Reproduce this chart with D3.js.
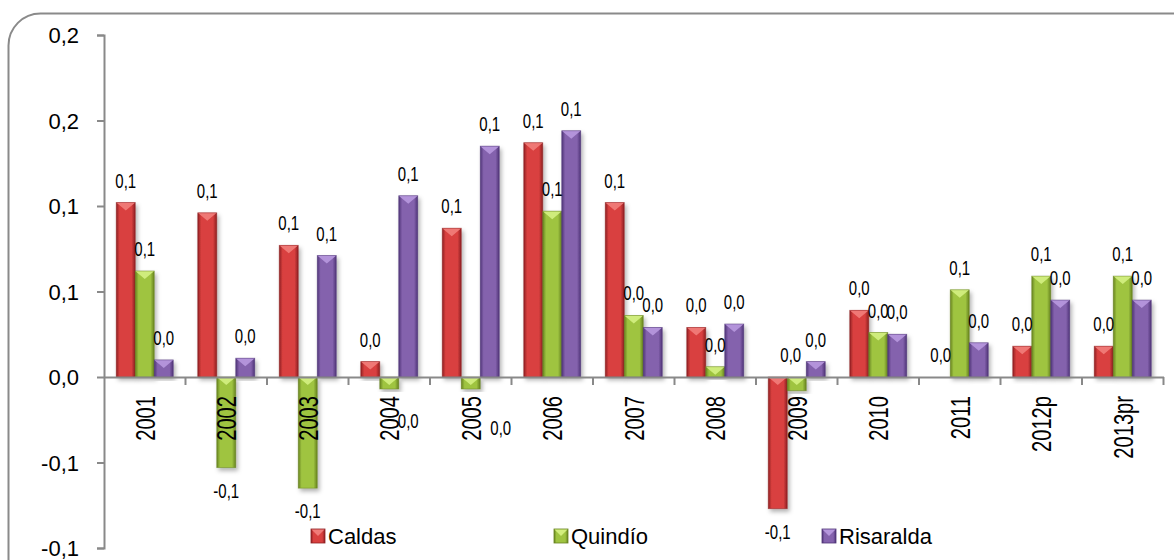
<!DOCTYPE html>
<html>
<head>
<meta charset="utf-8">
<script src="https://cdn.jsdelivr.net/npm/d3@7/dist/d3.min.js"></script>
<style>
  html, body { margin: 0; padding: 0; background: #fff; }
  svg { display: block; font-family: "Liberation Sans", Arial, sans-serif; }
</style>
</head>
<body>
<svg id="chart" width="1174" height="560"></svg>
<script>
// ---- data ----
const years = ["2001","2002","2003","2004","2005","2006","2007","2008","2009","2010","2011","2012p","2013pr"];
const seriesNames = ["Caldas","Quindío","Risaralda"];
const caldas    = [0.102, 0.096, 0.077, 0.009, 0.087, 0.137, 0.102, 0.029, -0.077, 0.039, 0.000, 0.018, 0.018];
const quindio   = [0.062, -0.053, -0.065, -0.007, -0.007, 0.097, 0.036, 0.006, -0.008, 0.026, 0.051, 0.059, 0.059];
const risaralda = [0.010, 0.011, 0.071, 0.106, 0.135, 0.144, 0.029, 0.031, 0.009, 0.025, 0.020, 0.045, 0.045];
const yTicks      = [-0.1, -0.05, 0, 0.05, 0.1, 0.15, 0.2];
const yTickLabels = ["-0,1", "-0,1", "0,0", "0,1", "0,1", "0,2", "0,2"];

// ---- styling ----
const palette = {
  "Caldas":    {edge: "#8e1f22", mid: "#d9403f", light: "#f07b78"},
  "Quindío":   {edge: "#66821f", mid: "#9fc441", light: "#d2ee7e"},
  "Risaralda": {edge: "#4f3477", mid: "#8462ad", light: "#b596dc"}
};
// manual label moves found in the original (dx, dy in px relative to default placement)
const labelNudge = {
  "Quindío|2004": {anchor: "below", dx: 19, dy: 9},
  "Quindío|2005": {anchor: "below", dx: 30, dy: 16},
  "Quindío|2009": {anchor: "above", dx: -6, dy: 0}
};

const svg = d3.select("#chart");
const defs = svg.append("defs");

// drop shadow
const f = defs.append("filter").attr("id","shadow").attr("x","-30%").attr("y","-10%").attr("width","170%").attr("height","130%");
f.append("feDropShadow").attr("dx",2).attr("dy",3).attr("stdDeviation",2).attr("flood-color","#000").attr("flood-opacity",0.3);

seriesNames.forEach((s,i) => {
  const p = palette[s];
  const g = defs.append("linearGradient").attr("id","grad"+i).attr("x1","0").attr("x2","1").attr("y1","0").attr("y2","0");
  g.append("stop").attr("offset","0%").attr("stop-color",p.edge);
  g.append("stop").attr("offset","18%").attr("stop-color",p.mid);
  g.append("stop").attr("offset","45%").attr("stop-color",p.mid);
  g.append("stop").attr("offset","80%").attr("stop-color",p.mid);
  g.append("stop").attr("offset","100%").attr("stop-color",p.edge);
});

// ---- frame ----
svg.append("rect").attr("x",8.5).attr("y",13.5).attr("width",1200).attr("height",600)
  .attr("rx",32).attr("ry",32).attr("fill","none").attr("stroke","#8a8a8a").attr("stroke-width",2);

// ---- scales ----
const plotLeft = 104, plotRight = 1163.5;
const y = d3.scaleLinear().domain([-0.1, 0.2]).range([548, 35]);
const x0 = d3.scaleBand().domain(years).range([plotLeft, plotRight]).paddingInner(0).paddingOuter(0);
const x1 = d3.scaleBand().domain(seriesNames).range([12.25, x0.bandwidth() - 12.25]).padding(0);

const values = {"Caldas": caldas, "Quindío": quindio, "Risaralda": risaralda};
const data = [];
years.forEach((yr, j) => seriesNames.forEach((s, i) => data.push({year: yr, series: s, si: i, v: values[s][j]})));

const axisColor = "#898989";

// ---- y axis ----
const yAxis = svg.append("g").attr("transform", `translate(${plotLeft},0)`)
  .call(d3.axisLeft(y).tickValues(yTicks).tickSize(7).tickPadding(18)
    .tickFormat((d,i) => yTickLabels[i]));
yAxis.select(".domain").attr("stroke", axisColor).attr("stroke-width", 2);
yAxis.selectAll(".tick line").attr("stroke", axisColor).attr("stroke-width", 2);
yAxis.selectAll(".tick text").attr("font-size", 22).attr("fill", "#000")
  .attr("font-family", "'Liberation Sans', Arial, sans-serif").attr("dy", "0.36em");

// ---- bars ----
const barG = svg.append("g");
const bars = barG.selectAll("g.bar").data(data).join("g").attr("class","bar").attr("filter","url(#shadow)");
bars.append("rect")
  .attr("x", d => x0(d.year) + x1(d.series))
  .attr("y", d => y(Math.max(0, d.v)))
  .attr("width", x1.bandwidth())
  .attr("height", d => Math.abs(y(d.v) - y(0)))
  .attr("fill", d => `url(#grad${d.si})`);
// bevel cap at the top of each bar
bars.filter(d => Math.abs(y(d.v) - y(0)) > 0.5).append("path")
  .attr("d", d => {
    const bx = x0(d.year) + x1(d.series), w = x1.bandwidth();
    const top = y(Math.max(0, d.v));
    const h = Math.min(8, Math.abs(y(d.v) - y(0)));
    return `M${bx},${top}L${bx+w},${top}L${bx+w/2},${top+h}Z`;
  })
  .attr("fill", d => palette[d.series].light).attr("opacity", 0.95);
bars.filter(d => Math.abs(y(d.v) - y(0)) > 0.5).append("rect")
  .attr("x", d => x0(d.year) + x1(d.series))
  .attr("y", d => y(Math.max(0, d.v)))
  .attr("width", x1.bandwidth())
  .attr("height", d => Math.abs(y(d.v) - y(0)))
  .attr("fill", "none").attr("stroke", d => palette[d.series].edge).attr("stroke-width", 0.8).attr("stroke-opacity", 0.6);

// ---- x axis (zero line) ----
const xAxis = svg.append("g").attr("transform", `translate(0,${y(0)})`)
  .call(d3.axisBottom(x0).tickSize(0).tickFormat(""));
xAxis.select(".domain").attr("stroke", axisColor).attr("stroke-width", 2);
svg.append("g").selectAll("line").data(years.slice(1).concat(["__end"])).join("line")
  .attr("x1", d => d === "__end" ? plotRight : x0(d))
  .attr("x2", d => d === "__end" ? plotRight : x0(d))
  .attr("y1", y(0)).attr("y2", y(0) + 8)
  .attr("stroke", axisColor).attr("stroke-width", 2);

// year labels (rotated)
svg.append("g").selectAll("text").data(years).join("text")
  .attr("transform", d => `translate(${x0(d) + x0.bandwidth()/2},396) rotate(-90) scale(0.72,1)`)
  .attr("text-anchor", "end").attr("dy", "0.36em")
  .attr("font-size", 28).attr("fill", "#000")
  .text(d => d);

// ---- data labels ----
const fmt = v => {
  const r = Math.round(Math.abs(v) * 10) / 10;
  const s = r.toFixed(1).replace(".", ",");
  return (v < 0 && r > 0) ? "-" + s : s;
};
svg.append("g").selectAll("text").data(data).join("text")
  .attr("transform", d => {
    const cx = x0(d.year) + x1(d.series) + x1.bandwidth()/2;
    const n = labelNudge[d.series + "|" + d.year];
    const mode = n ? n.anchor : (d.v >= 0 ? "above" : "below");
    let ty = mode === "above" ? y(Math.max(0, d.v)) - 15 : y(d.v) + 30;
    let tx = cx;
    if (n) { tx += n.dx; ty += n.dy; }
    return `translate(${tx},${ty}) scale(0.75,1)`;
  })
  .attr("text-anchor", "middle").attr("font-size", 20).attr("fill", "#000")
  .text(d => fmt(d.v));

// ---- legend ----
const legendX = [311, 554, 822];
const lg = svg.append("g").selectAll("g").data(seriesNames).join("g")
  .attr("transform", (d,i) => `translate(${legendX[i]},529)`);
lg.append("rect").attr("width", 14).attr("height", 14).attr("fill", (d,i) => `url(#grad${i})`);
lg.append("path").attr("d", "M0,0L14,0L7,7Z").attr("fill", d => palette[d].light);
lg.append("rect").attr("width", 14).attr("height", 14).attr("fill", "none")
  .attr("stroke", d => palette[d].edge).attr("stroke-width", 0.8);
lg.append("text").attr("x", 17).attr("y", 15)
  .attr("font-size", 22).attr("fill", "#000").text(d => d);
</script>
</body>
</html>
